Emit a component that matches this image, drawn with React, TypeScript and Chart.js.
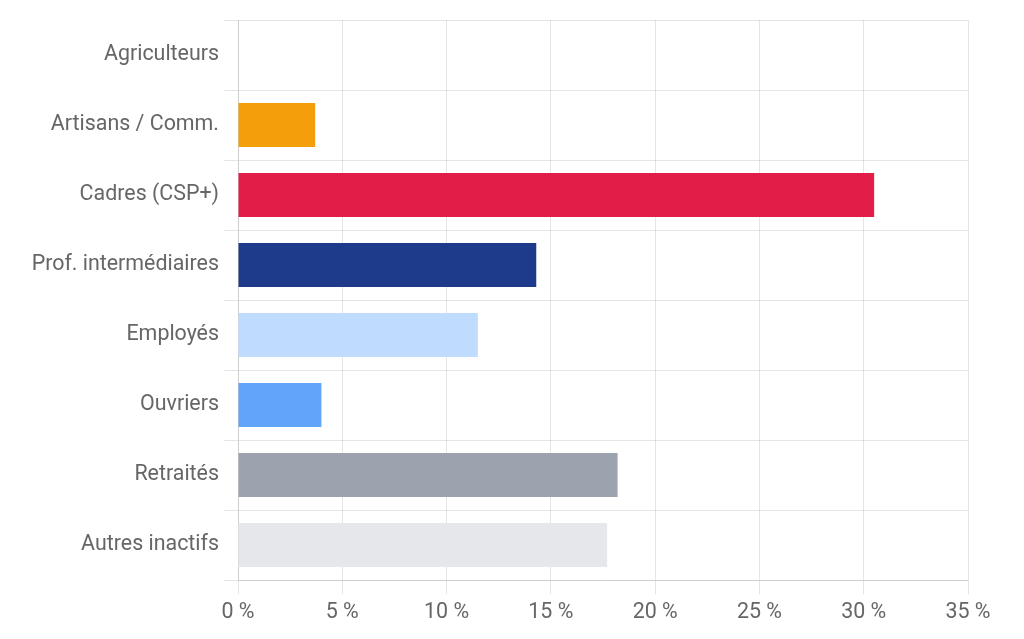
import React, { useEffect, useRef } from "react";
import { Chart, registerables } from "chart.js";

Chart.register(...registerables);

const categories = [
  "Agriculteurs",
  "Artisans / Comm.",
  "Cadres (CSP+)",
  "Prof. intermédiaires",
  "Employés",
  "Ouvriers",
  "Retraités",
  "Autres inactifs",
];
const values = [0, 3.7, 30.5, 14.3, 11.5, 4.0, 18.2, 17.7];
const barColors = [
  "#10b981",
  "#f59e0b",
  "#e11d48",
  "#1e3a8a",
  "#bfdbfe",
  "#60a5fa",
  "#9ca3af",
  "#e5e7eb",
];
const xMin = 0;
const xMax = 35;
const xStep = 5;

export default function App() {
  const ref = useRef<HTMLCanvasElement | null>(null);
  useEffect(() => {
    if (!ref.current) return;
    const font = { family: "Roboto, 'Helvetica Neue', Helvetica, Arial, sans-serif", size: 21.4 };
    const chart = new Chart(ref.current, {
      type: "bar",
      data: {
        labels: categories,
        datasets: [
          {
            data: values,
            backgroundColor: barColors,
            borderWidth: 0,
            categoryPercentage: 0.7,
            barPercentage: 0.9,
          },
        ],
      },
      options: {
        indexAxis: "y",
        animation: false,
        responsive: true,
        maintainAspectRatio: false,
        layout: { padding: { top: 20, right: 56, bottom: 0, left: 0 } },
        plugins: { legend: { display: false }, tooltip: { enabled: false } },
        scales: {
          x: {
            min: xMin,
            max: xMax,
            ticks: {
              stepSize: xStep,
              color: "#666",
              font,
              padding: 6,
              callback: (v: any) => `${v} %`,
            },
            grid: { color: "rgba(0,0,0,0.1)", tickLength: 14 },
            border: { color: "rgba(0,0,0,0.1)" },
            afterFit: (s: any) => {
              s.height = 59;
            },
          },
          y: {
            ticks: { color: "#666", font, padding: 5 },
            grid: { color: "rgba(0,0,0,0.1)", tickLength: 14 },
            border: { color: "rgba(0,0,0,0.1)" },
            afterFit: (s: any) => {
              s.width = 238;
            },
          },
        },
      },
    });
    return () => chart.destroy();
  }, []);
  return (
    <div style={{ position: "absolute", left: 0, top: 0, width: 1024, height: 639 }}>
      <canvas ref={ref} />
    </div>
  );
}
